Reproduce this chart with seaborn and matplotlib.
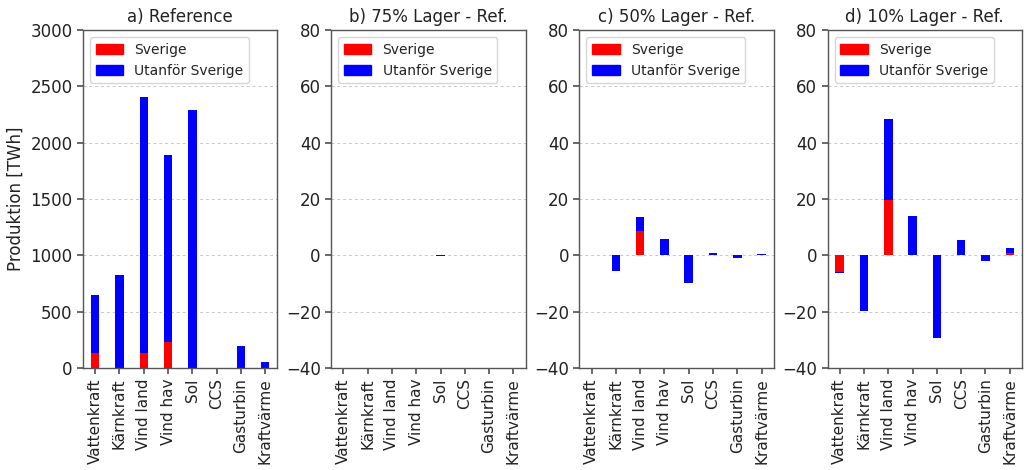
import matplotlib
matplotlib.use("Agg")
import matplotlib.pyplot as plt
from matplotlib.patches import Patch
import numpy as np
import pandas as pd
import seaborn as sns

categories = ["Vattenkraft", "Kärnkraft", "Vind land", "Vind hav", "Sol",
              "CCS", "Gasturbin", "Kraftvärme"]

titles = ["a) Reference", "b) 75% Lager - Ref.", "c) 50% Lager - Ref.",
          "d) 10% Lager - Ref."]

# Production inside Sweden and outside Sweden per technology [TWh]
ref_sverige = [133, 0, 133, 231, 0, 0, 0, 0]
ref_utanfor = [518, 828, 2269, 1659, 2290, 0, 195, 50]

lager75_sverige = [0, 0, 0.1, 0, 0, 0, 0, 0]
lager75_utanfor = [0, 0, 0.2, 0, -0.25, 0, 0, 0]

lager50_sverige = [0, 0, 8.5, 0, 0, 0, 0, 0.15]
lager50_utanfor = [0, -5.4, 5.1, 5.8, -9.8, 0.8, -0.9, 0.25]

lager10_sverige = [-6.0, 0, 19.8, 0, 0, 0, 0, 0.8]
lager10_utanfor = [-0.3, -19.8, 28.7, 14.0, -29.5, 5.3, -1.9, 1.7]

series = [
    (ref_sverige, ref_utanfor),
    (lager75_sverige, lager75_utanfor),
    (lager50_sverige, lager50_utanfor),
    (lager10_sverige, lager10_utanfor),
]

sns.set_theme(style="ticks")
plt.rcParams["font.family"] = ["DejaVu Sans"]

fig, axes = plt.subplots(1, 4, figsize=(10.25, 4.7), dpi=100)
fig.subplots_adjust(left=0.081, right=0.997, top=0.936, bottom=0.217,
                    wspace=0.277)

spine_color = "#555555"
text_color = "#222222"

for ax, title, (sve, uta) in zip(axes, titles, series):
    df = pd.DataFrame({
        "teknik": categories,
        "sverige": sve,
        "total": np.array(sve) + np.array(uta),
    })
    ax.set_axisbelow(True)
    ax.yaxis.grid(True, linestyle=(0, (3, 3)), color="#c8c8c8",
                  linewidth=0.7)
    # Stacked look: total first in blue, the Swedish share on top in red
    sns.barplot(data=df, x="teknik", y="total", color="blue", width=0.35,
                saturation=1, linewidth=0, ax=ax, order=categories)
    sns.barplot(data=df, x="teknik", y="sverige", color="red", width=0.35,
                saturation=1, linewidth=0, ax=ax, order=categories)
    ax.set_title(title, fontsize=12, color=text_color)
    ax.set_xlabel("")
    ax.set_ylabel("")
    ax.tick_params(axis="x", labelrotation=90, labelsize=11,
                   colors=text_color)
    ax.tick_params(axis="y", labelsize=12, colors=text_color)
    ax.tick_params(axis="both", color=spine_color, length=4)
    for s in ax.spines.values():
        s.set_color(spine_color)
        s.set_linewidth(1.0)
    handles = [Patch(color="red", label="Sverige"),
               Patch(color="blue", label="Utanför Sverige")]
    ax.legend(handles=handles, loc="upper left", fontsize=10,
              labelcolor=text_color, handlelength=2.0)

axes[0].set_ylim(0, 3000)
axes[0].set_yticks(np.arange(0, 3001, 500))
axes[0].set_ylabel("Produktion [TWh]", fontsize=12, color=text_color)
for ax in axes[1:]:
    ax.set_ylim(-40, 80)
    ax.set_yticks(np.arange(-40, 81, 20))

fig.savefig("out.png", dpi=100)
